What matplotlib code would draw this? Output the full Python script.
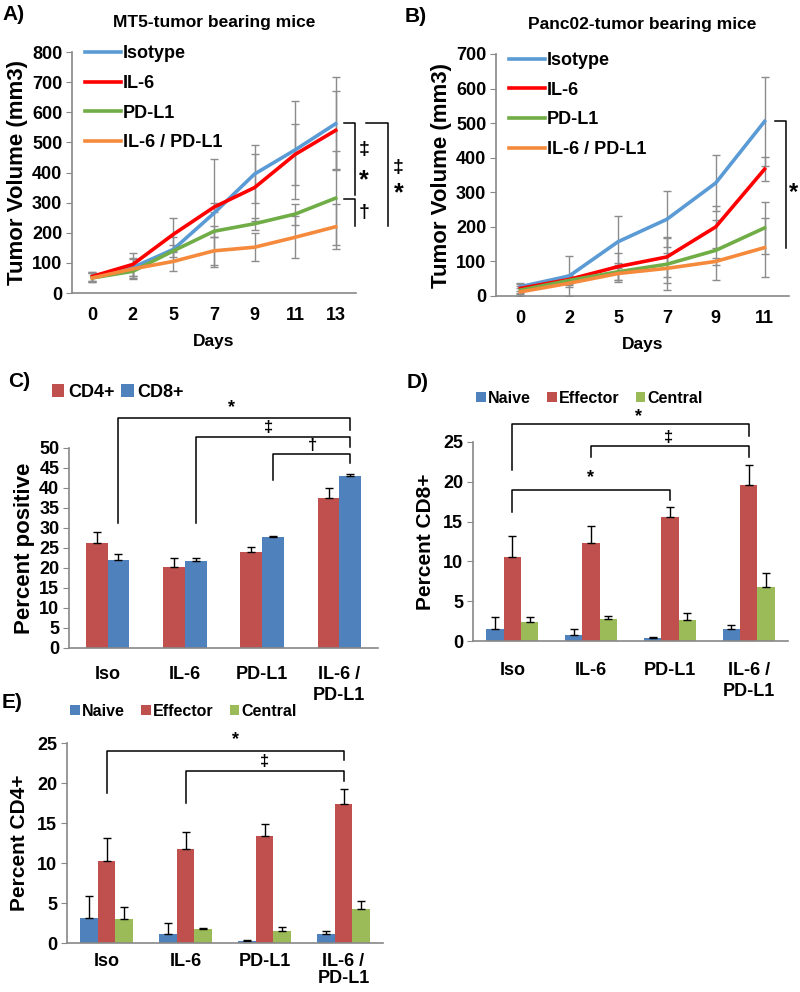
import numpy as np
import matplotlib
matplotlib.use("Agg")
import matplotlib.pyplot as plt

plt.rcParams['font.family'] = ['Liberation Sans', 'DejaVu Sans']
plt.rcParams['font.weight'] = 'bold'
plt.rcParams['axes.labelweight'] = 'bold'
plt.rcParams['axes.titleweight'] = 'bold'

# ---- data ----
groups = ['Isotype', 'IL-6', 'PD-L1', 'IL-6 / PD-L1']
line_colors = ['#5B9BD5', '#FF0000', '#70AD47', '#F58A3C']

days_a = ['0', '2', '5', '7', '9', '11', '13']
vol_a = {
    'Isotype': [55, 85, 145, 265, 395, 475, 562],
    'IL-6': [55, 95, 195, 285, 350, 460, 540],
    'PD-L1': [50, 72, 140, 205, 230, 262, 315],
    'IL-6 / PD-L1': [50, 80, 105, 140, 152, 185, 220],
}
err_a = {
    'Isotype': [15, 30, 40, 180, 97, 163, 155],
    'IL-6': [15, 38, 55, 15, 112, 100, 130],
    'PD-L1': [15, 22, 20, 18, 20, 35, 155],
    'IL-6 / PD-L1': [15, 32, 32, 47, 47, 70, 75],
}

days_b = ['0', '2', '5', '7', '9', '11']
vol_b = {
    'Isotype': [27, 58, 157, 222, 327, 505],
    'IL-6': [22, 48, 85, 113, 200, 367],
    'PD-L1': [17, 45, 70, 92, 132, 197],
    'IL-6 / PD-L1': [12, 37, 65, 80, 100, 140],
}
err_b = {
    'Isotype': [12, 57, 75, 81, 81, 128],
    'IL-6': [12, 12, 40, 57, 60, 35],
    'PD-L1': [12, 12, 25, 75, 87, 75],
    'IL-6 / PD-L1': [12, 12, 25, 43, 10, 85],
}

treat = ['Iso', 'IL-6', 'PD-L1', 'IL-6 /\nPD-L1']

cd4_c = [26.3, 20.3, 24.0, 37.4]
cd4_c_err = [2.7, 2.2, 1.2, 2.6]
cd8_c = [22.0, 21.7, 27.8, 43.0]
cd8_c_err = [1.5, 0.8, 0.2, 0.6]

subsets = ['Naive', 'Effector', 'Central']
bar_colors = ['#4F81BD', '#C0504D', '#9BBB59']

cd8_sub = [[1.5, 0.8, 0.4, 1.5], [10.6, 12.3, 15.6, 19.6], [2.4, 2.8, 2.7, 6.8]]
cd8_sub_err = [[1.5, 0.7, 0.1, 0.5], [2.6, 2.2, 1.2, 2.5], [0.6, 0.4, 0.8, 1.8]]

cd4_sub = [[3.1, 1.1, 0.3, 1.1], [10.3, 11.7, 13.4, 17.4], [3.0, 1.8, 1.5, 4.3]]
cd4_sub_err = [[2.8, 1.4, 0.1, 0.4], [2.8, 2.2, 1.5, 1.9], [1.5, 0.1, 0.5, 1.0]]

SPINE = '#888888'
W, H = 800, 992
fig = plt.figure(figsize=(8, 9.92), dpi=100)


def add_ax(left, top, right, bottom):
    return fig.add_axes([left / W, 1 - bottom / H, (right - left) / W, (bottom - top) / H])


def style(ax, ysize=13, xpad=9, lsp=1.3):
    for s in ['top', 'right']:
        ax.spines[s].set_visible(False)
    for s in ['left', 'bottom']:
        ax.spines[s].set_color(SPINE)
        ax.spines[s].set_linewidth(1.2)
    ax.tick_params(axis='y', length=4, color=SPINE, labelsize=ysize, pad=3)
    ax.tick_params(axis='x', length=0, labelsize=13, pad=xpad)
    for t in ax.get_xticklabels() + ax.get_yticklabels():
        t.set_fontweight('bold')
        t.set_linespacing(lsp)


def bracket(ax, x0, x1, y, yl, yr):
    ax.plot([x0, x0, x1, x1], [yl, y, y, yr], color='black', lw=1.1, clip_on=False)


def line_panel(ax, days, vols, errs, ymax, leg_y):
    x = np.arange(len(days))
    for g in groups:
        ax.errorbar(x, vols[g], yerr=errs[g], color='#8C8C8C', lw=0, elinewidth=1,
                    capsize=3, capthick=1, zorder=1)
    for g, c in zip(groups, line_colors):
        ax.plot(x, vols[g], color=c, lw=2.6, label=g, zorder=2)
    ax.set_xlim(-0.5, len(days) - 0.5)
    ax.set_ylim(0, ymax)
    ax.set_yticks(np.arange(0, ymax + 1, 100))
    ax.set_xticks(x)
    ax.set_xticklabels(days)
    style(ax, xpad=10)
    ax.set_ylabel('Tumor Volume (mm3)', fontsize=16, labelpad=3)
    ax.set_xlabel('Days', fontsize=12.5, labelpad=7)
    ax.legend(loc='upper left', bbox_to_anchor=(0.0, leg_y), frameon=False,
              fontsize=13, handlelength=2.0, handletextpad=0.1, labelspacing=0.7,
              borderaxespad=0.3)


# ---- A ----
axA = add_ax(72, 52, 356, 293)
line_panel(axA, days_a, vol_a, err_a, 800, 1.08)
axA.set_title('MT5-tumor bearing mice', fontsize=12.5, pad=18)
bracket(axA, 6.2, 6.47, 565, 565, 325)
bracket(axA, 6.2, 6.47, 313, 313, 222)
bracket(axA, 6.74, 7.3, 565, 565, 222)
axA.text(6.7, 475, '‡', fontsize=14, ha='center', va='center', clip_on=False)
axA.text(6.7, 375, '*', fontsize=18, ha='center', va='center', clip_on=False)
axA.text(6.7, 268, '†', fontsize=14, ha='center', va='center', clip_on=False)
axA.text(7.55, 415, '‡', fontsize=14, ha='center', va='center', clip_on=False)
axA.text(7.55, 330, '*', fontsize=18, ha='center', va='center', clip_on=False)

# ---- B ----
axB = add_ax(496, 54, 789, 296)
line_panel(axB, days_b, vol_b, err_b, 700, 1.06)
axB.set_title('Panc02-tumor bearing mice', fontsize=12.5, pad=18)
bracket(axB, 5.22, 5.43, 505, 505, 140)
axB.text(5.6, 300, '*', fontsize=17, ha='center', va='center', clip_on=False)

# ---- C ----
axC = add_ax(69, 448, 378, 648)
xc = np.arange(4)
bw = 0.28
axC.bar(xc - bw / 2, cd4_c, bw, color=bar_colors[1], label='CD4+')
axC.bar(xc + bw / 2, cd8_c, bw, color=bar_colors[0], label='CD8+')
axC.errorbar(xc - bw / 2, cd4_c, yerr=[np.zeros(4), cd4_c_err], fmt='none',
             ecolor='black', elinewidth=1, capsize=3)
axC.errorbar(xc + bw / 2, cd8_c, yerr=[np.zeros(4), cd8_c_err], fmt='none',
             ecolor='black', elinewidth=1, capsize=3)
axC.set_xlim(-0.5, 3.5)
axC.set_ylim(0, 50)
axC.set_yticks(np.arange(0, 51, 5))
axC.set_xticks(xc)
axC.set_xticklabels(treat)
style(axC, ysize=13, xpad=13)
axC.set_ylabel('Percent positive', fontsize=16, labelpad=3)
axC.legend(loc='lower left', bbox_to_anchor=(-0.08, 1.2), ncol=2, frameon=False,
           fontsize=13, handlelength=0.7, handleheight=0.7, handletextpad=0.2,
           columnspacing=0.4, borderaxespad=0)
bracket(axC, 0.14, 3.14, 57.5, 31.2, 54.5)
bracket(axC, 1.14, 3.14, 52.8, 31.2, 50.3)
bracket(axC, 2.14, 3.14, 48.5, 42.0, 46.3)
axC.text(1.6, 60.0, '*', fontsize=13, ha='center', va='center', clip_on=False)
axC.text(2.08, 55.2, '‡', fontsize=12, ha='center', va='center', clip_on=False)
axC.text(2.65, 50.6, '†', fontsize=12, ha='center', va='center', clip_on=False)


def subset_panel(ax, vals, errs, ylabel, leg_y, xpad, lsp):
    x = np.arange(4)
    w = 0.22
    for k in range(3):
        xs = x + (k - 1) * w
        ax.bar(xs, vals[k], w, color=bar_colors[k], label=subsets[k])
        ax.errorbar(xs, vals[k], yerr=[np.zeros(4), errs[k]], fmt='none',
                    ecolor='black', elinewidth=1, capsize=3)
    ax.set_xlim(-0.5, 3.5)
    ax.set_ylim(0, 25)
    ax.set_yticks(np.arange(0, 26, 5))
    ax.set_xticks(x)
    ax.set_xticklabels(treat)
    style(ax, ysize=13, xpad=xpad, lsp=lsp)
    ax.set_ylabel(ylabel, fontsize=15, labelpad=6)
    ax.legend(loc='lower left', bbox_to_anchor=(-0.01, leg_y), ncol=3, frameon=False,
              fontsize=11.5, handlelength=0.6, handleheight=0.6, handletextpad=0.15,
              columnspacing=1.0, borderaxespad=0)


# ---- D ----
axD = add_ax(473, 442, 788, 641)
subset_panel(axD, cd8_sub, cd8_sub_err, 'Percent CD8+', 1.15, 15, 1.3)
bracket(axD, 0, 3, 27.2, 21.5, 25.7)
bracket(axD, 1, 3, 24.5, 23.1, 23.1)
bracket(axD, 0, 2, 19.0, 16.2, 17.7)
axD.text(1.6, 28.2, '*', fontsize=13, ha='center', va='center', clip_on=False)
axD.text(1.98, 25.6, '‡', fontsize=12, ha='center', va='center', clip_on=False)
axD.text(0.99, 20.5, '*', fontsize=13, ha='center', va='center', clip_on=False)

# ---- E ----
axE = add_ax(67, 743, 383, 943)
subset_panel(axE, cd4_sub, cd4_sub_err, 'Percent CD4+', 1.09, 7, 1.05)
bracket(axE, 0, 3, 24.0, 18.75, 22.9)
bracket(axE, 1, 3, 21.5, 17.5, 20.25)
axE.text(1.63, 25.4, '*', fontsize=13, ha='center', va='center', clip_on=False)
axE.text(2.0, 22.7, '‡', fontsize=12, ha='center', va='center', clip_on=False)

# panel letters
for lab, px, py in [('A)', 2, 14), ('B)', 405, 16), ('C)', 8, 382),
                    ('D)', 407, 383), ('E)', 2, 703)]:
    fig.text(px / W, 1 - py / H, lab, fontsize=15, ha='left', va='center')

fig.savefig('out.png', dpi=100)
